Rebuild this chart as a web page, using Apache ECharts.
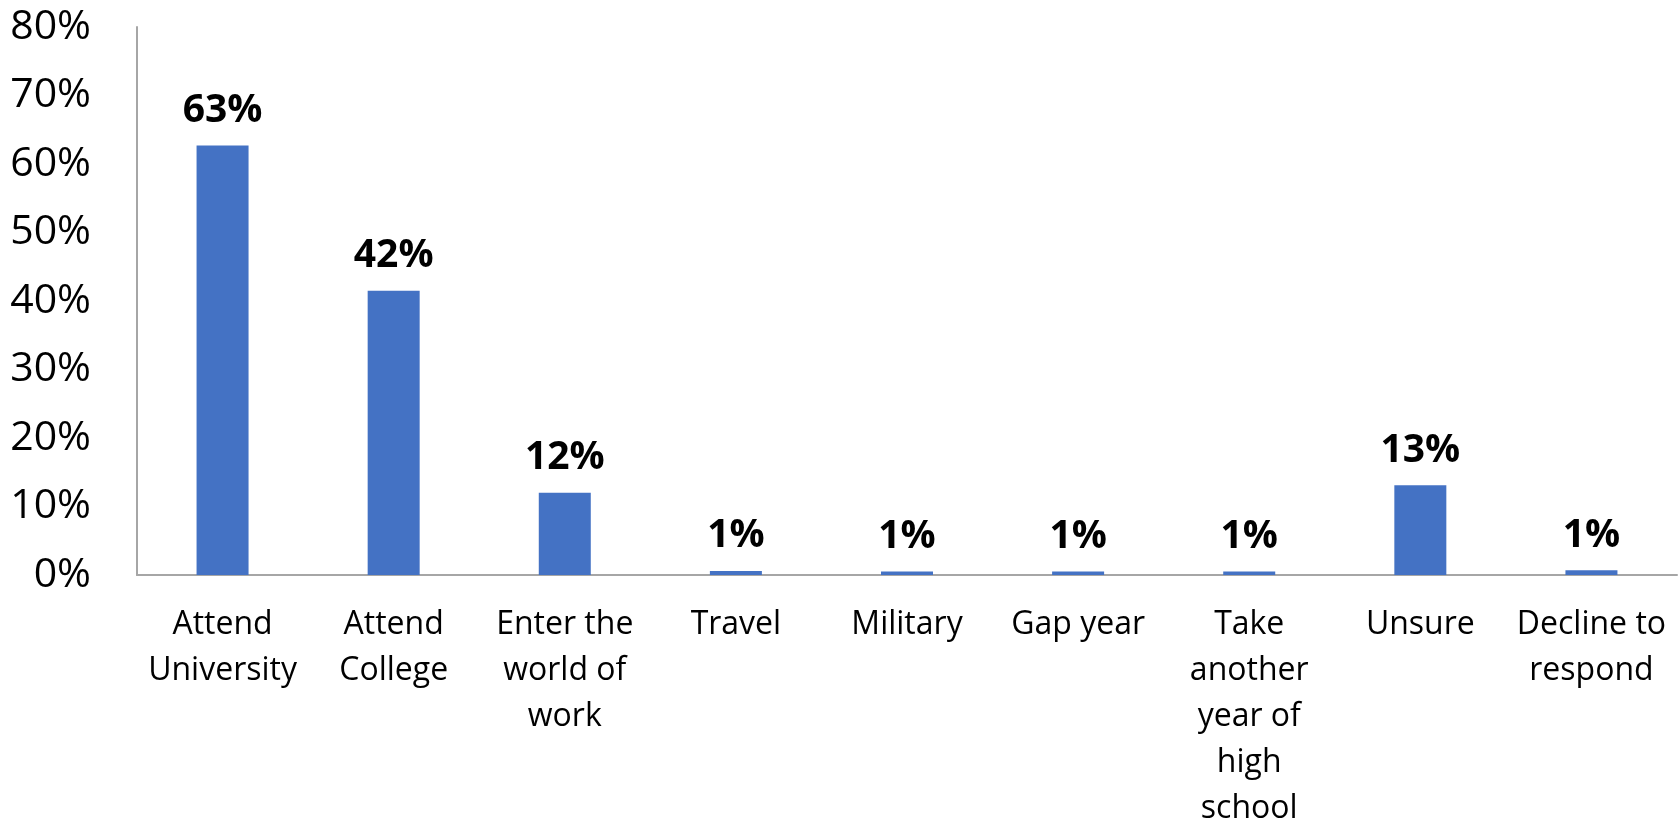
<!DOCTYPE html>
<html>
<head>
<meta charset="utf-8">
<script src="https://cdn.jsdelivr.net/npm/echarts@6/dist/echarts.min.js"></script>
<style>
html,body{margin:0;padding:0;background:#fff;}
#chart{width:1680px;height:826px;}
</style>
</head>
<body>
<div id="chart"></div>
<script>
const categories = ["Attend\nUniversity", "Attend\nCollege", "Enter the\nworld of\nwork", "Travel", "Military", "Gap year", "Take\nanother\nyear of\nhigh\nschool", "Unsure", "Decline to\nrespond"];
const values = [62.7, 41.5, 12.0, 0.6, 0.5, 0.5, 0.5, 13.1, 0.7];
const valueLabels = ["63%", "42%", "12%", "1%", "1%", "1%", "1%", "13%", "1%"];
const yMin = 0, yMax = 80, yStep = 10;

const chart = echarts.init(document.getElementById('chart'));
chart.setOption({
  animation: false,
  grid: {left: 137, right: 3, top: 27, bottom: 251, containLabel: false, outerBoundsMode: 'none'},
  xAxis: {
    type: 'category',
    data: categories,
    axisLine: {show: true, lineStyle: {color: '#a6a6a6', width: 2}},
    axisTick: {show: false},
    axisLabel: {
      interval: 0, margin: 27, color: '#000',
      fontFamily: 'Open Sans', fontSize: 32, lineHeight: 46
    }
  },
  yAxis: {
    type: 'value', min: yMin, max: yMax, interval: yStep,
    axisLine: {show: true, lineStyle: {color: '#a6a6a6', width: 2}},
    axisTick: {show: false},
    splitLine: {show: false},
    axisLabel: {
      formatter: '{value}%', margin: 46, color: '#000',
      fontFamily: 'Open Sans', fontSize: 41, padding: [5, 0, 0, 0]
    }
  },
  series: [{
    type: 'bar',
    data: values,
    barWidth: 52,
    itemStyle: {color: '#4472C4'},
    label: {
      show: true, position: 'top', distance: 15,
      formatter: p => valueLabels[p.dataIndex],
      color: '#000', fontFamily: 'Open Sans', fontWeight: 'bold', fontSize: 39
    }
  }]
});
</script>
</body>
</html>
